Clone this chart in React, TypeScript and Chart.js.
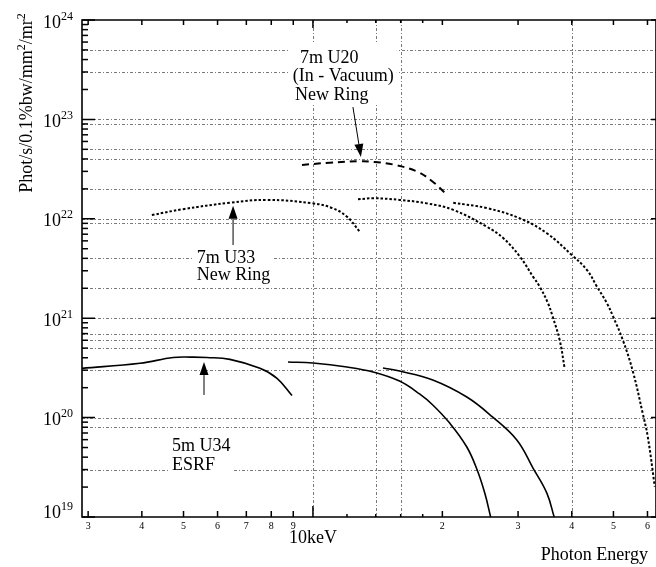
import React, { useEffect, useRef } from 'react';
import { Chart, registerables } from 'chart.js';

Chart.register(...registerables);

const SERIF = "'Liberation Serif', 'Times New Roman', Times, serif";

// ---------- data: photon energy (keV) vs brilliance ----------
// 5m U34 ESRF (solid)
const u34h1E = [2.9, 3.96, 4.73, 5.2, 5.67, 6.41, 7.53, 8.25, 8.94];
const u34h1F = [3.13e20, 3.52e20, 4.02e20, 4.06e20, 4.03e20, 3.85e20, 3.13e20, 2.48e20, 1.67e20];
const u34h3E = [8.75, 10, 12.0, 13.8, 15.9, 17.7, 19.0, 20.8, 22.8, 24.1, 25.1, 25.9];
const u34h3F = [3.63e20, 3.54e20, 3.23e20, 2.88e20, 2.33e20, 1.73e20, 1.34e20, 8.8e19, 5.06e19, 2.97e19, 1.74e19, 1e19];
const u34h5E = [14.55, 15.9, 19.0, 22.8, 26.2, 29.8, 32.5, 35.0, 36.4];
const u34h5F = [3.15e20, 2.94e20, 2.39e20, 1.61e20, 1.01e20, 5.95e19, 3.11e19, 1.74e19, 1e19];

// 7m U33 New Ring (dotted)
const u33h1E = [4.22, 4.99, 6.41, 7.82, 10, 11.1, 12.0, 12.86];
const u33h1F = [1.09e22, 1.25e22, 1.45e22, 1.55e22, 1.43e22, 1.28e22, 1.05e22, 7.4e21];
const u33h3E = [12.73, 13.8, 15.9, 18.4, 21.2, 25.4, 27.7, 30.3, 32.5, 33.7, 35.2, 36.1, 37.5, 38.5];
const u33h3F = [1.57e22, 1.61e22, 1.55e22, 1.43e22, 1.23e22, 8.3e21, 6.4e21, 4.16e21, 2.62e21, 2.07e21, 1.42e21, 1.04e21, 6.0e20, 3.13e20];

// 7m U20 (In-Vacuum) New Ring (dashed fundamental, dotted higher harmonic)
const u20h1E = [9.43, 10.95, 12.93, 13.9, 15.35, 17.5, 19.0, 20.3];
const u20h1F = [3.48e22, 3.67e22, 3.79e22, 3.73e22, 3.52e22, 2.98e22, 2.36e22, 1.82e22];
const u20h3E = [21.2, 25.4, 30.3, 35.0, 40, 43.4, 45.8, 48.3, 49.9, 52.6, 55.5, 58.5, 60.1, 62.4];
const u20h3F = [1.45e22, 1.28e22, 1.01e22, 7.15e21, 4.32e21, 3.05e21, 2.07e21, 1.41e21, 1.04e21, 6.0e20, 2.9e20, 1.1e20, 6.4e19, 2.02e19];

// ---------- axes ----------
const xMin = 2.903;
const xMax = 62.8;
const yMin = 1e19;
const yMax = 1e24;

const yDecades = [1e19, 1e20, 1e21, 1e22, 1e23, 1e24];
const yDecadeExp = ['19', '20', '21', '22', '23', '24'];
const yGridValues = [5e23, 3e23, 1e23, 9e22, 5e22, 4e22, 2e22, 1e22, 9e21, 4e21, 2e21, 1e21, 7e20, 6e20, 5e20, 3e20, 1e20, 8e19, 3e19];
const xGridValues = [10, 14, 16, 40];
const xTickValues = [3, 4, 5, 6, 7, 8, 9, 20, 30, 40, 50, 60];
const xTickLabels = ['3', '4', '5', '6', '7', '8', '9', '2', '3', '4', '5', '6'];
const xSmallTicks = [12, 14, 16, 18];
const xMajorTick = 10;
const xMajorLabel = '10keV';
const xTitle = 'Photon Energy';

// ---------- annotations (data coordinates: energy, brilliance at text baseline) ----------
const noteU20Text = ['7m U20', '(In - Vacuum)', 'New Ring'];
const noteU20E = [9.33, 8.98, 9.08];
const noteU20F = [3.69e23, 2.43e23, 1.567e23];
const noteU33Text = ['7m U33', 'New Ring'];
const noteU33E = [5.37, 5.37];
const noteU33F = [3.59e21, 2.42e21];
const noteU34Text = ['5m U34', 'ESRF'];
const noteU34E = [4.70, 4.70];
const noteU34F = [4.61e19, 2.97e19];

const arrowFromE = [12.39, 6.52, 5.58];
const arrowFromF = [1.33e23, 5.45e21, 1.69e20];
const arrowToE = [12.93, 6.52, 5.58];
const arrowToF = [4.19e22, 1.35e22, 3.62e20];

const pts = (E: number[], F: number[]) => E.map((e, i) => ({ x: e, y: F[i] }));

function drawParts(ctx: CanvasRenderingContext2D, x: number, y: number, parts: [string, boolean][], main: number, sup: number, raise: number, draw = true) {
  let cx = x;
  for (const [t, isSup] of parts) {
    ctx.font = `${isSup ? sup : main}px ${SERIF}`;
    if (draw) ctx.fillText(t, cx, isSup ? y - raise : y);
    cx += ctx.measureText(t).width;
  }
  return cx - x;
}

const customPlugin = {
  id: 'customDraw',
  beforeDatasetsDraw(chart: any) {
    const { ctx, chartArea: a } = chart;
    const xs = chart.scales.x;
    const ys = chart.scales.y;
    ctx.save();
    // grid
    ctx.strokeStyle = '#7a7a7a';
    ctx.lineWidth = 1;
    ctx.setLineDash([3, 2, 1, 2]);
    for (const v of yGridValues) {
      const py = Math.round(ys.getPixelForValue(v)) + 0.5;
      ctx.beginPath();
      ctx.moveTo(a.left, py);
      ctx.lineTo(a.right, py);
      ctx.stroke();
    }
    for (const v of xGridValues) {
      const px = Math.round(xs.getPixelForValue(v)) + 0.5;
      ctx.beginPath();
      ctx.moveTo(px, a.top);
      ctx.lineTo(px, a.bottom);
      ctx.stroke();
    }
    ctx.setLineDash([]);

    // annotation texts with white masks
    const groups: [string[], number[], number[]][] = [
      [noteU20Text, noteU20E, noteU20F],
      [noteU33Text, noteU33E, noteU33F],
      [noteU34Text, noteU34E, noteU34F],
    ];
    ctx.font = `18px ${SERIF}`;
    ctx.textBaseline = 'alphabetic';
    ctx.textAlign = 'left';
    for (const [texts, E, F] of groups) {
      let minX = Infinity, maxX = -Infinity;
      const xsP = E.map((e) => xs.getPixelForValue(e));
      const ysP = F.map((f) => ys.getPixelForValue(f));
      texts.forEach((t, i) => {
        const w = ctx.measureText(t).width;
        minX = Math.min(minX, xsP[i]);
        maxX = Math.max(maxX, xsP[i] + w);
      });
      const top = ysP[0] - 20;
      const bottom = ysP[ysP.length - 1] + 4;
      ctx.fillStyle = '#ffffff';
      ctx.fillRect(minX - 3, top, maxX - minX + 6, bottom - top);
      ctx.fillStyle = '#000000';
      texts.forEach((t, i) => ctx.fillText(t, xsP[i], ysP[i]));
    }
    ctx.restore();
  },
  afterDatasetsDraw(chart: any) {
    const { ctx, chartArea: a } = chart;
    const xs = chart.scales.x;
    const ys = chart.scales.y;
    ctx.save();
    ctx.strokeStyle = '#000';
    ctx.fillStyle = '#000';

    // arrows
    ctx.lineWidth = 1;
    for (let i = 0; i < arrowFromE.length; i++) {
      const x0 = xs.getPixelForValue(arrowFromE[i]);
      const y0 = ys.getPixelForValue(arrowFromF[i]);
      const x1 = xs.getPixelForValue(arrowToE[i]);
      const y1 = ys.getPixelForValue(arrowToF[i]);
      const ang = Math.atan2(y1 - y0, x1 - x0);
      const hl = 13, hw = 4.5;
      const bx = x1 - hl * Math.cos(ang), by = y1 - hl * Math.sin(ang);
      ctx.beginPath();
      ctx.moveTo(x0, y0);
      ctx.lineTo(bx, by);
      ctx.stroke();
      ctx.beginPath();
      ctx.moveTo(x1, y1);
      ctx.lineTo(bx + hw * Math.sin(ang), by - hw * Math.cos(ang));
      ctx.lineTo(bx - hw * Math.sin(ang), by + hw * Math.cos(ang));
      ctx.closePath();
      ctx.fill();
    }

    // frame
    ctx.lineWidth = 1.6;
    ctx.beginPath();
    ctx.moveTo(a.right, a.top);
    ctx.lineTo(a.left, a.top);
    ctx.lineTo(a.left, a.bottom);
    ctx.lineTo(a.right, a.bottom);
    ctx.lineTo(a.right, a.top);
    ctx.stroke();

    // y ticks
    ctx.lineWidth = 1.5;
    for (let d = 0; d < yDecades.length; d++) {
      const base = yDecades[d];
      const py = ys.getPixelForValue(base);
      ctx.beginPath();
      ctx.moveTo(a.left, py);
      ctx.lineTo(a.left + 13, py);
      ctx.moveTo(a.right, py);
      ctx.lineTo(a.right - 5, py);
      ctx.stroke();
      if (d < yDecades.length - 1) {
        for (let m = 2; m <= 9; m++) {
          const my = ys.getPixelForValue(base * m);
          ctx.beginPath();
          ctx.moveTo(a.left, my);
          ctx.lineTo(a.left + 6, my);
          ctx.stroke();
        }
      }
    }
    // x ticks
    const xt = (v: number, lb: number, lt: number) => {
      const px = xs.getPixelForValue(v);
      ctx.beginPath();
      ctx.moveTo(px, a.bottom);
      ctx.lineTo(px, a.bottom - lb);
      ctx.moveTo(px, a.top);
      ctx.lineTo(px, a.top + lt);
      ctx.stroke();
    };
    for (const v of xTickValues) xt(v, 6, 5);
    for (const v of xSmallTicks) xt(v, 3, 3);
    xt(xMajorTick, 11, 8);

    // y tick labels
    ctx.textBaseline = 'alphabetic';
    ctx.textAlign = 'left';
    for (let d = 0; d < yDecades.length; d++) {
      const py = ys.getPixelForValue(yDecades[d]);
      const baseY = Math.min(py + 7.5, a.bottom + 1);
      const parts: [string, boolean][] = [['10', false], [yDecadeExp[d], true]];
      const w = drawParts(ctx, 0, 0, parts, 18, 12, 8, false);
      drawParts(ctx, 73 - w, baseY, parts, 18, 12, 8, true);
    }

    // x tick labels
    ctx.font = `10px ${SERIF}`;
    ctx.textAlign = 'center';
    xTickValues.forEach((v, i) => {
      ctx.fillText(xTickLabels[i], xs.getPixelForValue(v), a.bottom + 12);
    });
    ctx.font = `18px ${SERIF}`;
    ctx.fillText(xMajorLabel, xs.getPixelForValue(xMajorTick), a.bottom + 26);
    ctx.textAlign = 'right';
    ctx.fillText(xTitle, 648, a.bottom + 43);

    // y title
    ctx.save();
    const tparts: [string, boolean][] = [['Phot/s/0.1%bw/mm', false], ['2', true], ['/mr', false], ['2', true]];
    ctx.textAlign = 'left';
    const tw = drawParts(ctx, 0, 0, tparts, 18, 12, 7, false);
    ctx.translate(32, 103);
    ctx.rotate(-Math.PI / 2);
    drawParts(ctx, -tw / 2, 0, tparts, 18, 12, 7, true);
    ctx.restore();

    ctx.restore();
  },
};

export default function App() {
  const ref = useRef<HTMLCanvasElement | null>(null);
  useEffect(() => {
    if (!ref.current) return;
    const solid = { borderColor: '#000', borderWidth: 1.6, pointRadius: 0, showLine: true, fill: false, tension: 0.4 };
    const dotted = { ...solid, borderWidth: 2, borderDash: [2.5, 2] };
    const dashed = { ...solid, borderWidth: 2, borderDash: [7, 5] };
    const chart = new Chart(ref.current, {
      type: 'scatter',
      data: {
        datasets: [
          { label: '5m U34 ESRF', data: pts(u34h1E, u34h1F), ...solid },
          { label: '5m U34 ESRF h3', data: pts(u34h3E, u34h3F), ...solid },
          { label: '5m U34 ESRF h5', data: pts(u34h5E, u34h5F), ...solid },
          { label: '7m U33 New Ring', data: pts(u33h1E, u33h1F), ...dotted },
          { label: '7m U33 New Ring h3', data: pts(u33h3E, u33h3F), ...dotted },
          { label: '7m U20 New Ring', data: pts(u20h1E, u20h1F), ...dashed },
          { label: '7m U20 New Ring h3', data: pts(u20h3E, u20h3F), ...dotted },
        ],
      },
      options: {
        responsive: false,
        animation: false,
        devicePixelRatio: 1,
        layout: { padding: { left: 82, top: 20, right: 0, bottom: 50 } },
        plugins: { legend: { display: false }, tooltip: { enabled: false } },
        scales: {
          x: { type: 'logarithmic', min: xMin, max: xMax, display: false },
          y: { type: 'logarithmic', min: yMin, max: yMax, display: false },
        },
      },
      plugins: [customPlugin],
    });
    return () => chart.destroy();
  }, []);
  return (
    <div style={{ position: 'absolute', left: 0, top: 0, width: 656, height: 567, background: '#fff' }}>
      <canvas ref={ref} width={656} height={567} style={{ width: 656, height: 567, display: 'block' }} />
    </div>
  );
}
